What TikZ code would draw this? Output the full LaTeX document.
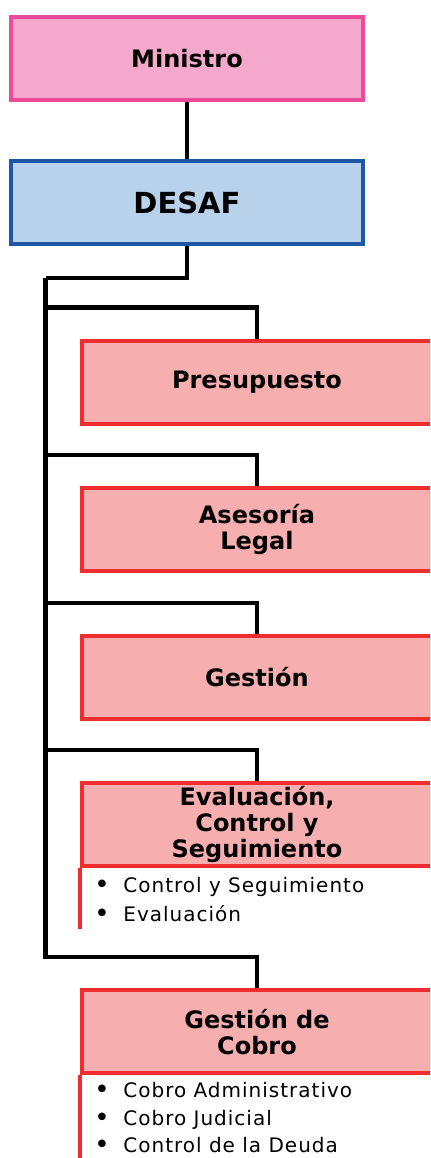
\documentclass[tikz,border=0pt]{standalone}
\usepackage{fontspec}
\setmainfont{DejaVu Sans}
\newfontfamily\itemfont[LetterSpace=5]{DejaVu Sans}
\usetikzlibrary{positioning}
\definecolor{minpink}{HTML}{EC4A9B}
\definecolor{minfill}{HTML}{F4A9CB}
\definecolor{desblue}{HTML}{1F56A5}
\definecolor{desfill}{HTML}{B8D2EC}
\definecolor{unitred}{HTML}{EE2D2F}
\definecolor{unitfill}{HTML}{F6AEAF}
\newcommand{\itembullet}{\makebox[14.5pt][l]{\raisebox{-0.6pt}{\fontsize{13}{12}\selectfont•}}}

\begin{document}
\begin{tikzpicture}[x=0.5pt,y=-0.5pt,
    box/.style={draw,line width=2pt,minimum width=176pt,minimum height=41.5pt,align=center,inner sep=0pt},
    unit/.style={box,draw=unitred,fill=unitfill,minimum width=175pt,font=\bfseries\fontsize{12}{13}\selectfont},
    item/.style={anchor=base west,inner sep=0pt,font=\itemfont\fontsize{10}{12}\selectfont},
    conn/.style={line width=2.1pt,draw=black},
    side/.style={line width=2pt,draw=unitred}]
    \useasboundingbox (0,0) rectangle (430,1158);
    \clip (0,0) rectangle (430,1158);
    % top of the chart
    \node[box,draw=minpink,fill=minfill,font=\bfseries\fontsize{12}{14}\selectfont] (min) at (187,58.5) {Ministro};
    \node[box,draw=desblue,fill=desfill,font=\bfseries\fontsize{14.5}{16}\selectfont,below=28.5pt of min] (desaf) {DESAF};
    % units
    \node[unit] (pres) at (257,382) {Presupuesto};
    \node[unit,below=30.3pt of pres] (ases) {Asesoría\\Legal};
    \node[unit,below=30.3pt of ases] (gest) {Gestión};
    \node[unit,below=30.3pt of gest] (eval) {Evaluación,\\Control y\\Seguimiento};
    \node[unit,below=60pt of eval] (cobro) {Gestión de\\Cobro};
    % lists under the units
    \draw[side] (eval.south west) -- ++(0,61);
    \draw[side] (cobro.south west) -- ++(0,100);
    \node[item] (ev1) at (94,892) {\itembullet Control y Seguimiento};
    \node[item] (ev2) at (94,921.5) {\itembullet Evaluación};
    \node[item] (co1) at (94,1097) {\itembullet Cobro Administrativo};
    \node[item] (co2) at (94,1125) {\itembullet Cobro Judicial};
    \node[item] (co3) at (94,1152.5) {\itembullet Control de la Deuda};
    % connectors
    \coordinate (trunk) at (45.5,278);
    \draw[conn] (min) -- (desaf);
    \draw[conn] (desaf.south) |- (trunk);
    \draw[conn] (pres.north) -- ++(0,-31) -| (trunk);
    \draw[conn] (ases.north) -- ++(0,-31) -| (trunk);
    \draw[conn] (gest.north) -- ++(0,-31) -| (trunk);
    \draw[conn] (eval.north) -- ++(0,-31) -| (trunk);
    \draw[conn] (cobro.north) -- ++(0,-31) -| (trunk);
\end{tikzpicture}
\end{document}
